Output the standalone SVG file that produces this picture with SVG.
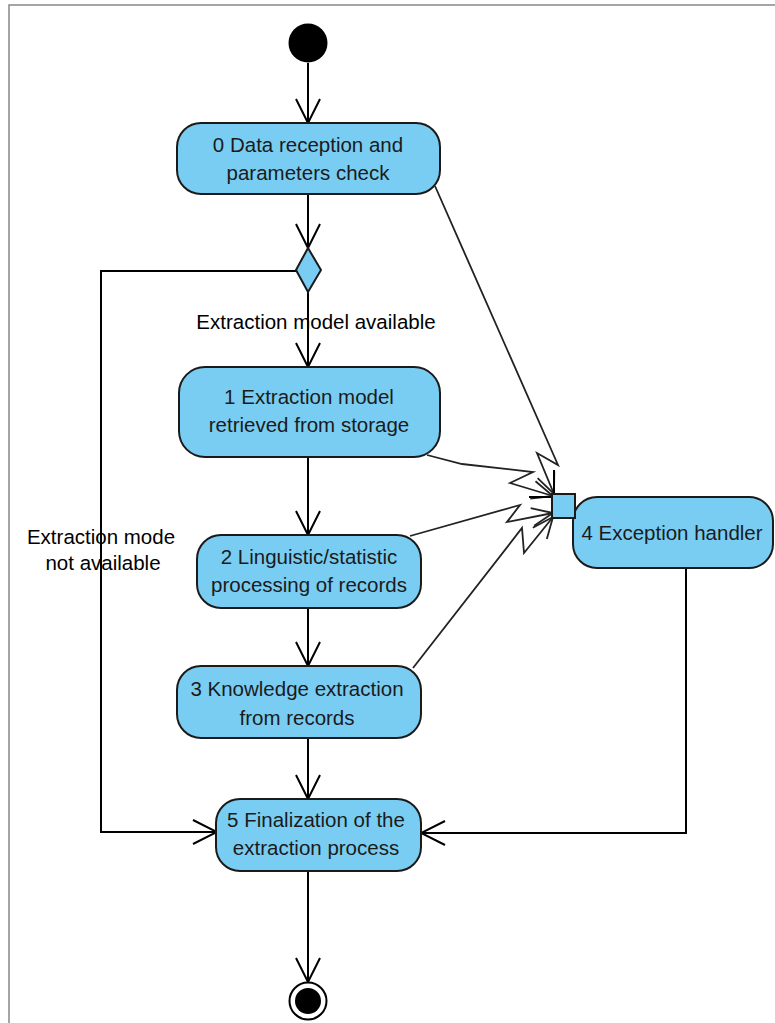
<svg xmlns="http://www.w3.org/2000/svg" width="775" height="1023" viewBox="0 0 775 1023">
<style>
.node{fill:#79CDF2;stroke:#1a1a1a;stroke-width:2}
.t{font-family:"Liberation Sans",Arial,sans-serif;font-size:20.5px;fill:#1b1b1b;text-anchor:middle}
.lbl{font-family:"Liberation Sans",Arial,sans-serif;font-size:20.5px;fill:#000;text-anchor:middle}
.flow{fill:none;stroke:#000;stroke-width:2}
.bolt{fill:none;stroke:#222;stroke-width:1.8}
.frame{stroke:#888;stroke-width:1.5;fill:none}
</style>
<defs>
<marker id="arr" viewBox="-26 -14 28 28" refX="0" refY="0" markerWidth="28" markerHeight="28" markerUnits="userSpaceOnUse" orient="auto">
<path d="M-24,-12 L0,0 L-24,12" fill="none" stroke="#000" stroke-width="2"/>
</marker>
<marker id="barr" viewBox="-24 -12 26 24" refX="0" refY="0" markerWidth="26" markerHeight="24" markerUnits="userSpaceOnUse" orient="auto">
<path d="M-21,-9 L0,0 L-21,9" fill="none" stroke="#222" stroke-width="1.8"/>
</marker>
</defs>
<rect width="775" height="1023" fill="#fff"/>
<path class="frame" d="M9,1023 L9,5 L775,5"/>

<g id="labels">
<text class="lbl" x="316" y="329">Extraction model available</text>
<text class="lbl" x="101" y="544">Extraction mode</text>
<text class="lbl" x="103" y="570">not available</text>
</g>

<g id="connectors">
<line class="flow" x1="308" y1="63" x2="308" y2="123" marker-end="url(#arr)"/>
<line class="flow" x1="308" y1="194" x2="308" y2="248" marker-end="url(#arr)"/>
<line class="flow" x1="308" y1="292" x2="308" y2="367" marker-end="url(#arr)"/>
<polyline class="flow" points="296,271 101,271 101,832 217,832" marker-end="url(#arr)"/>
<line class="flow" x1="308" y1="457" x2="308" y2="535" marker-end="url(#arr)"/>
<line class="flow" x1="308" y1="608" x2="308" y2="666" marker-end="url(#arr)"/>
<line class="flow" x1="308" y1="738" x2="308" y2="799" marker-end="url(#arr)"/>
<line class="flow" x1="308" y1="871" x2="308" y2="982" marker-end="url(#arr)"/>
<polyline class="flow" points="686,568 686,833 421,833" marker-end="url(#arr)"/>
<polyline class="bolt" points="435,186 558,465 537,453 554,494" marker-end="url(#barr)"/>
<polyline class="bolt" points="427,455 462,464 533,472 510,483 553,496" marker-end="url(#barr)"/>
<polyline class="bolt" points="410,536 520,505 507,522 553,513" marker-end="url(#barr)"/>
<polyline class="bolt" points="413,668 522,528 524,553 553,517" marker-end="url(#barr)"/>
<line x1="554" y1="470" x2="554" y2="494" stroke="#000" stroke-width="2"/>
<line x1="529" y1="497" x2="552" y2="497" stroke="#000" stroke-width="2"/>
</g>

<g id="start"><circle cx="308" cy="43" r="19.5" fill="#000"/></g>

<g id="n0">
<rect class="node" x="177" y="123" width="263" height="71" rx="24"/>
<text class="t" x="308" y="152">0 Data reception and</text>
<text class="t" x="308" y="180">parameters check</text>
</g>

<g id="decision"><polygon class="node" points="308,248 321,270 308,292 296,270" stroke-width="1.5"/></g>

<g id="n1">
<rect class="node" x="179" y="367" width="261" height="90" rx="26"/>
<text class="t" x="309" y="404">1 Extraction model</text>
<text class="t" x="309" y="432">retrieved from storage</text>
</g>

<g id="n2">
<rect class="node" x="197" y="535" width="224" height="73" rx="24"/>
<text class="t" x="309" y="564">2 Linguistic/statistic</text>
<text class="t" x="309" y="592">processing of records</text>
</g>

<g id="n3">
<rect class="node" x="177" y="666" width="244" height="72" rx="24"/>
<text class="t" x="297" y="696">3 Knowledge extraction</text>
<text class="t" x="297" y="725">from records</text>
</g>

<g id="n4">
<rect class="node" x="573" y="497" width="200" height="71" rx="24"/>
<text class="t" x="672" y="540">4 Exception handler</text>
</g>

<g id="pin"><rect class="node" x="552" y="494" width="23" height="24"/></g>

<g id="n5">
<rect class="node" x="216" y="799" width="205" height="72" rx="24"/>
<text class="t" x="316" y="827">5 Finalization of the</text>
<text class="t" x="316" y="855">extraction process</text>
</g>

<g id="end">
<circle cx="308" cy="1001" r="18.5" fill="#fff" stroke="#000" stroke-width="2"/>
<circle cx="308" cy="1001" r="13" fill="#000"/>
</g>
</svg>
